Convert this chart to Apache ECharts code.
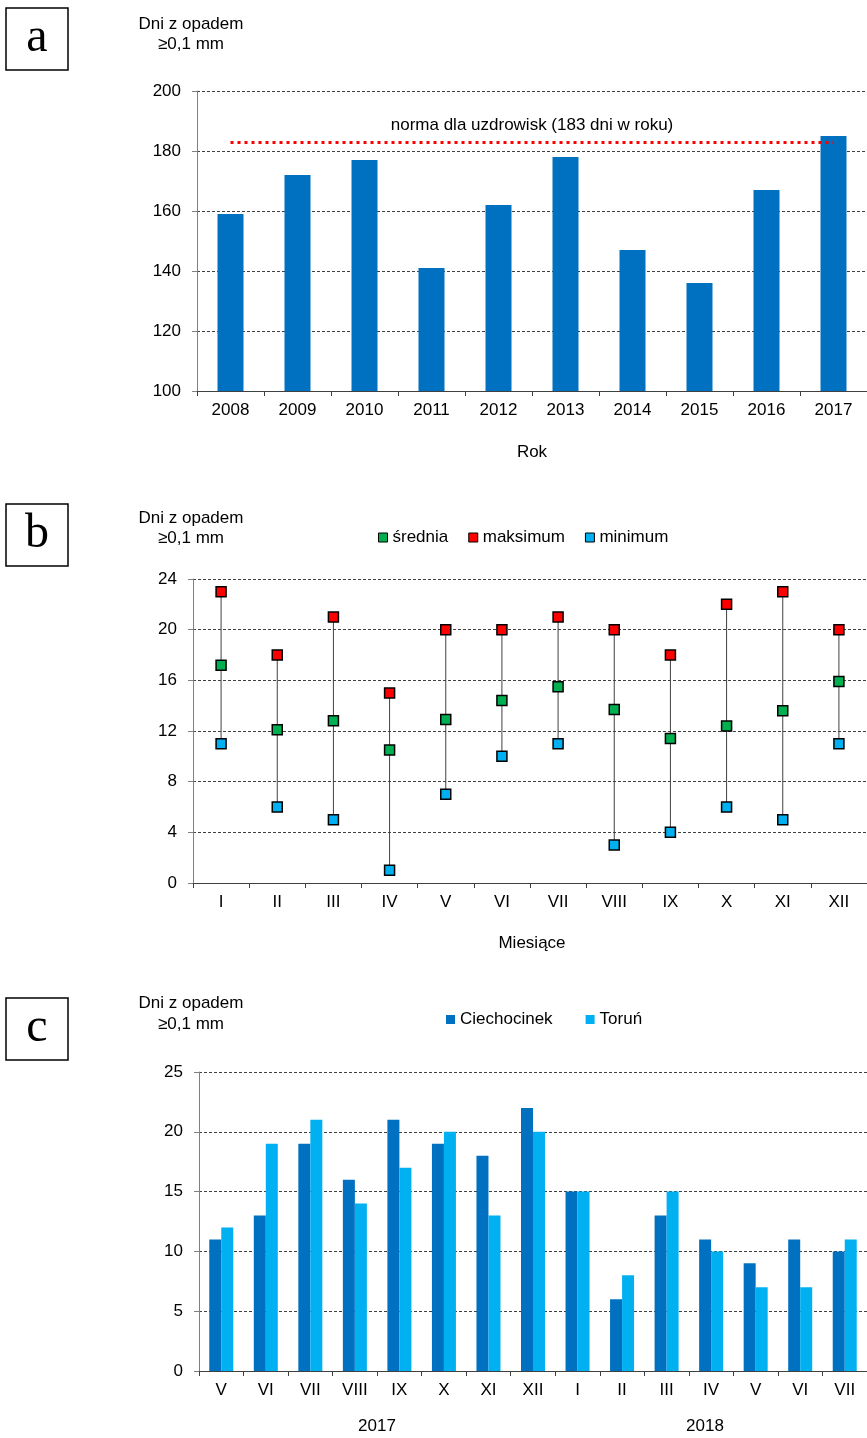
<!DOCTYPE html>
<html>
<head>
<meta charset="utf-8">
<script src="https://cdn.jsdelivr.net/npm/echarts@6/dist/echarts.min.js"></script>
<style>
  html, body { margin: 0; padding: 0; background: #fff; }
  #chart { width: 867px; height: 1438px; }
</style>
</head>
<body>
<div id="chart"></div>
<script>
// panel a: yearly number of days with precipitation
var years = ['2008', '2009', '2010', '2011', '2012', '2013', '2014', '2015', '2016', '2017'];
var yearDays = [159, 172, 177, 141, 162, 178, 147, 136, 167, 185];
var normValue = 183;

// panel b: monthly mean / max / min
var months = ['I', 'II', 'III', 'IV', 'V', 'VI', 'VII', 'VIII', 'IX', 'X', 'XI', 'XII'];
var monthMean = [17.2, 12.1, 12.8, 10.5, 12.9, 14.4, 15.5, 13.7, 11.4, 12.4, 13.6, 15.9];
var monthMax = [23, 18, 21, 15, 20, 20, 21, 20, 18, 22, 23, 20];
var monthMin = [11, 6, 5, 1, 7, 10, 11, 3, 4, 6, 5, 11];

// panel c: Ciechocinek vs Toruń, V 2017 - VII 2018
var periodMonths = ['V', 'VI', 'VII', 'VIII', 'IX', 'X', 'XI', 'XII', 'I', 'II', 'III', 'IV', 'V', 'VI', 'VII'];
var ciechocinek = [11, 13, 19, 16, 21, 19, 18, 22, 15, 6, 13, 11, 9, 11, 10];
var torun = [12, 19, 21, 14, 17, 20, 13, 20, 15, 8, 15, 10, 7, 7, 11];

var FONT = '"Liberation Sans", Arial, sans-serif';
var SERIF = '"Liberation Serif", "Times New Roman", serif';

var myChart = echarts.init(document.getElementById('chart'));

function yAxisFor(gridIndex, min, max, interval) {
  return {
    type: 'value', gridIndex: gridIndex, min: min, max: max, interval: interval,
    axisLine: { show: true, lineStyle: { color: '#808080', width: 1 } },
    axisTick: { show: true, length: 5, lineStyle: { color: '#808080' } },
    axisLabel: { color: '#000', fontSize: 17, fontFamily: FONT, margin: 16 },
    splitLine: { show: true, lineStyle: { color: '#404040', type: [3, 2], width: 1 } }
  };
}

function xAxisFor(gridIndex, data) {
  return {
    type: 'category', gridIndex: gridIndex, data: data,
    axisLine: { show: true, lineStyle: { color: '#404040', width: 1 } },
    axisTick: { show: true, length: 5, lineStyle: { color: '#404040' } },
    axisLabel: { color: '#000', fontSize: 17, fontFamily: FONT, margin: 11 }
  };
}

function box(x, y, letter) {
  return [
    { type: 'rect', shape: { x: x, y: y, width: 62, height: 62 },
      style: { fill: '#fff', stroke: '#000', lineWidth: 1.5 } },
    { type: 'text', x: x + 31, y: y + 30,
      style: { text: letter, font: '48px ' + SERIF, fill: '#000', align: 'center', verticalAlign: 'middle' } }
  ];
}

function label(x, y, text) {
  return { type: 'text', x: x, y: y,
    style: { text: text, font: '17px ' + FONT, fill: '#000', align: 'center', verticalAlign: 'middle' } };
}

function rangeLine(params, api) {
  var top = api.coord([api.value(0), api.value(2)]);
  var bottom = api.coord([api.value(0), api.value(1)]);
  return {
    type: 'line',
    shape: { x1: top[0], y1: top[1], x2: bottom[0], y2: bottom[1] },
    style: { stroke: '#404040', lineWidth: 1 }
  };
}

function markers(name, values, color) {
  return {
    type: 'scatter', name: name, xAxisIndex: 1, yAxisIndex: 1,
    data: values, symbol: 'rect', symbolSize: 10, z: 5,
    itemStyle: { color: color, borderColor: '#000', borderWidth: 1.5, opacity: 1 }
  };
}

var option = {
  animation: false,
  backgroundColor: '#fff',
  textStyle: { fontFamily: FONT },
  grid: [
    { left: 197, top: 91, right: 0, height: 300 },
    { left: 193, top: 579, right: 0, height: 304 },
    { left: 199, top: 1072, right: 0, height: 299 }
  ],
  legend: [
    {
      data: ['średnia', 'maksimum', 'minimum'],
      left: 373, top: 524, itemWidth: 9, itemHeight: 9, itemGap: 20,
      icon: 'rect',
      itemStyle: { borderColor: '#000', borderWidth: 1 },
      textStyle: { color: '#000', fontSize: 17, fontFamily: FONT }
    },
    {
      data: ['Ciechocinek', 'Toruń'],
      left: 441, top: 1006, itemWidth: 9, itemHeight: 9, itemGap: 33,
      icon: 'rect',
      textStyle: { color: '#000', fontSize: 17, fontFamily: FONT }
    }
  ],
  xAxis: [xAxisFor(0, years), xAxisFor(1, months), xAxisFor(2, periodMonths)],
  yAxis: [yAxisFor(0, 100, 200, 20), yAxisFor(1, 0, 24, 4), yAxisFor(2, 0, 25, 5)],
  series: [
    {
      type: 'bar', xAxisIndex: 0, yAxisIndex: 0, data: yearDays, barWidth: 26,
      itemStyle: { color: '#0070c0' },
      markLine: {
        silent: true, symbol: 'none',
        lineStyle: { color: '#ff0000', width: 3, type: [3, 4] },
        label: {
          show: true, position: 'middle', distance: 8,
          formatter: 'norma dla uzdrowisk (183 dni w roku)',
          color: '#000', fontSize: 17, fontFamily: FONT
        },
        data: [[{ coord: [years[0], normValue] }, { coord: [years[years.length - 1], normValue] }]]
      }
    },
    {
      type: 'custom', xAxisIndex: 1, yAxisIndex: 1, renderItem: rangeLine, z: 2,
      data: months.map(function (m, i) { return [i, monthMin[i], monthMax[i]]; })
    },
    markers('średnia', monthMean, '#00b050'),
    markers('maksimum', monthMax, '#ff0000'),
    markers('minimum', monthMin, '#00b0f0'),
    {
      type: 'bar', name: 'Ciechocinek', xAxisIndex: 2, yAxisIndex: 2, data: ciechocinek,
      barWidth: 12, barGap: '0%', itemStyle: { color: '#0070c0' }
    },
    {
      type: 'bar', name: 'Toruń', xAxisIndex: 2, yAxisIndex: 2, data: torun,
      barWidth: 12, barGap: '0%', itemStyle: { color: '#00b0f0' }
    }
  ],
  graphic: [].concat(
    box(6, 8, 'a'), box(6, 504, 'b'), box(6, 998, 'c'),
    [
      label(191, 24, 'Dni z opadem'), label(191, 44, '≥0,1 mm'),
      label(191, 518, 'Dni z opadem'), label(191, 538, '≥0,1 mm'),
      label(191, 1003, 'Dni z opadem'), label(191, 1024, '≥0,1 mm'),
      label(532, 452, 'Rok'),
      label(532, 943, 'Miesiące'),
      label(377, 1426, '2017'),
      label(705, 1426, '2018')
    ]
  )
};

myChart.setOption(option);
</script>
</body>
</html>
